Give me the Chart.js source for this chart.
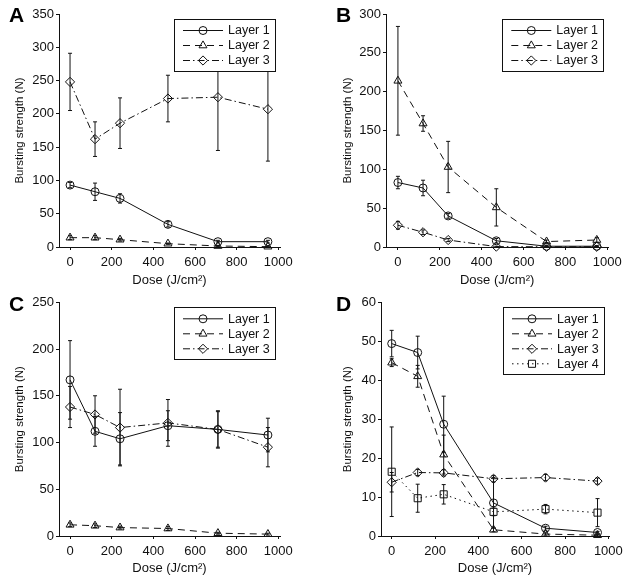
<!DOCTYPE html>
<html><head><meta charset="utf-8">
<script src="https://cdn.jsdelivr.net/npm/chart.js@4/dist/chart.umd.min.js"></script>
<style>
html,body{margin:0;padding:0;background:#fff;width:629px;height:585px;overflow:hidden}
canvas{position:absolute}
</style></head><body>
<canvas id="cA" width="315" height="290" style="left:0;top:0"></canvas>
<canvas id="cB" width="314" height="290" style="left:315px;top:0"></canvas>
<canvas id="cC" width="315" height="295" style="left:0;top:290px"></canvas>
<canvas id="cD" width="314" height="295" style="left:315px;top:290px"></canvas>
<script>
// ---- data ----
const doses = [0, 120, 240, 470, 710, 950];
const xTickValues = [0, 200, 400, 600, 800, 1000];
const layerNames = ['Layer 1', 'Layer 2', 'Layer 3', 'Layer 4'];
const xTitle = 'Dose (J/cm²)';
const yTitle = 'Bursting strength (N)';

const aYTicks = [0, 50, 100, 150, 200, 250, 300, 350];
const aLayer1 = [93, 83, 73, 34, 8, 8];
const aLayer1Err = [4, 13, 7, 4, 2, 2];
const aLayer2 = [14, 14, 11, 5, 1.5, 0.5];
const aLayer2Err = [3, 3, 2, 1, 1, 0.5];
const aLayer3 = [248, 162, 186, 223, 225, 207];
const aLayer3Err = [43, 26, 38, 35, 80, 78];

const bYTicks = [0, 50, 100, 150, 200, 250, 300];
const bLayer1 = [83, 76, 40, 8, 1, 1];
const bLayer1Err = [8, 10, 3, 3, 1, 1];
const bLayer2 = [214, 159, 103, 51, 7, 9];
const bLayer2Err = [70, 10, 33, 24, 2, 3];
const bLayer3 = [28, 19, 9, 0.5, 0.3, 0.3];
const bLayer3Err = [5, 3, 2, 0.5, 0.3, 0.3];

const cYTicks = [0, 50, 100, 150, 200, 250];
const cLayer1 = [167, 112, 104, 118, 114, 108];
const cLayer1Err = [42, 16, 28, 16, 19, 18];
const cLayer2 = [12, 11, 9, 8, 3, 2];
const cLayer2Err = [2, 2, 1.5, 2, 1, 1];
const cLayer3 = [138, 130, 116, 121, 114, 95];
const cLayer3Err = [22, 20, 41, 25, 20, 21];

const dYTicks = [0, 10, 20, 30, 40, 50, 60];
const dLayer1 = [49.4, 47.1, 28.7, 8.5, 2.0, 0.9];
const dLayer1Err = [3.4, 4.2, 7.2, 6.5, 0.5, 0.3];
const dLayer2 = [44.5, 41.0, 20.9, 1.6, 0.5, 0.2];
const dLayer2Err = [1.0, 2.8, 5.0, 0.5, 0.3, 0.2];
const dLayer3 = [13.8, 16.3, 16.2, 14.7, 15.0, 14.1];
const dLayer3Err = [2.5, 0.8, 0.8, 0.8, 0.8, 0.8];
const dLayer4 = [16.5, 9.7, 10.7, 6.2, 6.9, 6.0];
const dLayer4Err = [11.5, 3.6, 2.5, 1.0, 1.2, 3.6];

// ---- styles ----
const FONT = "'Liberation Sans', Arial, Helvetica, sans-serif";
const INK = '#111';
const layerStyles = [
  {dash: [], point: 'circle', r: 4},
  {dash: [7, 5], point: 'triangle', r: 4.6},
  {dash: [7, 3, 1.5, 3], point: 'rectRot', r: 4.6},
  {dash: [1.5, 3.5], point: 'rect', r: 5}
];

function drawMarker(ctx, style, x, y, r) {
  ctx.beginPath();
  if (style === 'circle') {
    ctx.arc(x, y, r, 0, Math.PI * 2);
  } else if (style === 'triangle') {
    let a = 0;
    ctx.moveTo(x + Math.sin(a) * r, y - Math.cos(a) * r);
    a += 2 * Math.PI / 3; ctx.lineTo(x + Math.sin(a) * r, y - Math.cos(a) * r);
    a += 2 * Math.PI / 3; ctx.lineTo(x + Math.sin(a) * r, y - Math.cos(a) * r);
    ctx.closePath();
  } else if (style === 'rectRot') {
    ctx.moveTo(x, y - r); ctx.lineTo(x + r, y); ctx.lineTo(x, y + r); ctx.lineTo(x - r, y); ctx.closePath();
  } else {
    const s = Math.SQRT1_2 * r;
    ctx.rect(x - s, y - s, 2 * s, 2 * s);
  }
  ctx.stroke();
}

const errorBarPlugin = {
  id: 'errbars',
  afterDatasetsDraw(chart) {
    const ctx = chart.ctx, xs = chart.scales.x, ys = chart.scales.y;
    ctx.save();
    ctx.strokeStyle = INK; ctx.lineWidth = 1; ctx.setLineDash([]);
    chart.data.datasets.forEach(ds => {
      ds.data.forEach((p, i) => {
        const e = ds.errors[i];
        if (!e) return;
        const x = xs.getPixelForValue(p.x);
        const y1 = ys.getPixelForValue(p.y + e);
        const y0 = ys.getPixelForValue(Math.max(0, p.y - e));
        ctx.beginPath();
        ctx.moveTo(x, y1); ctx.lineTo(x, y0);
        ctx.moveTo(x - 2, y1); ctx.lineTo(x + 2, y1);
        ctx.moveTo(x - 2, y0); ctx.lineTo(x + 2, y0);
        ctx.stroke();
      });
    });
    ctx.restore();
  }
};

const panelPlugin = {
  id: 'panel',
  afterDraw(chart, args, opts) {
    const ctx = chart.ctx, a = chart.chartArea;
    ctx.save();
    // legend box
    const n = chart.data.datasets.length;
    const w = 101, right = a.right - 5, left = right - w, top = a.top + 5;
    const h = 11.5 + (n - 1) * 15 + 10.5;
    ctx.fillStyle = '#fff';
    ctx.fillRect(left, top, w, h);
    ctx.strokeStyle = INK; ctx.lineWidth = 1;
    ctx.strokeRect(Math.round(left) + 0.5, Math.round(top) + 0.5, w, Math.round(h));
    ctx.font = '12.5px ' + FONT;
    ctx.textBaseline = 'middle'; ctx.textAlign = 'left';
    chart.data.datasets.forEach((ds, i) => {
      const y = top + 11.5 + i * 15;
      const st = layerStyles[i];
      ctx.setLineDash(st.dash);
      ctx.beginPath(); ctx.moveTo(left + 9, y); ctx.lineTo(left + 49, y); ctx.stroke();
      ctx.setLineDash([]);
      drawMarker(ctx, st.point, left + 29, y, st.r);
      ctx.fillStyle = INK;
      ctx.fillText(ds.label, left + 54, y + 0.5);
    });
    // panel letter
    ctx.font = 'bold 21px ' + FONT;
    ctx.textBaseline = 'alphabetic';
    ctx.fillStyle = '#000';
    ctx.fillText(opts.letter, opts.lx, opts.ly);
    ctx.restore();
  }
};

function makePanel(id, cfg) {
  const datasets = cfg.series.map((s, i) => ({
    label: layerNames[i],
    data: doses.map((d, j) => ({x: d, y: s[0][j]})),
    errors: s[1],
    borderColor: INK,
    borderWidth: 1,
    borderDash: layerStyles[i].dash,
    pointStyle: layerStyles[i].point,
    pointRadius: layerStyles[i].r,
    pointBorderColor: INK,
    pointBorderWidth: 1,
    pointBackgroundColor: 'rgba(0,0,0,0)',
    tension: 0,
    clip: false,
    fill: false
  }));
  const tickFont = {family: FONT, size: 13};
  new Chart(document.getElementById(id), {
    type: 'line',
    data: {datasets},
    plugins: [errorBarPlugin, panelPlugin],
    options: {
      responsive: false, animation: false, devicePixelRatio: 1,
      layout: {padding: cfg.pad},
      plugins: {
        legend: {display: false}, tooltip: {enabled: false},
        panel: {letter: cfg.letter, lx: cfg.lx, ly: cfg.ly}
      },
      scales: {
        x: {
          type: 'linear', min: cfg.xMin, max: cfg.xMax,
          afterBuildTicks: s => { s.ticks = xTickValues.map(v => ({value: v})); },
          afterFit: s => { s.height = cfg.hx; },
          grid: {display: true, drawOnChartArea: false, drawTicks: true, tickLength: 3, color: INK, lineWidth: 1},
          border: {display: true, color: INK, width: 1},
          ticks: {color: INK, font: tickFont, padding: 5, maxRotation: 0, autoSkip: false, callback: v => String(v)},
          title: {display: true, text: xTitle, color: INK, font: {family: FONT, size: 13}, padding: 0}
        },
        y: {
          type: 'linear', min: 0, max: cfg.yTicks[cfg.yTicks.length - 1],
          afterBuildTicks: s => { s.ticks = cfg.yTicks.map(v => ({value: v})); },
          afterFit: s => { s.width = cfg.wy; },
          grid: {display: true, drawOnChartArea: false, drawTicks: true, tickLength: 3, color: INK, lineWidth: 1},
          border: {display: true, color: INK, width: 1},
          ticks: {color: INK, font: tickFont, padding: 2, autoSkip: false, callback: v => String(v)},
          title: {display: true, text: yTitle, color: INK, font: {family: FONT, size: 11.5}, padding: 0}
        }
      }
    }
  });
}

makePanel('cA', {
  series: [[aLayer1, aLayer1Err], [aLayer2, aLayer2Err], [aLayer3, aLayer3Err]],
  yTicks: aYTicks, xMin: -53, xMax: 1008,
  pad: {left: 13, top: 14, right: 35, bottom: 2.2}, wy: 46, hx: 40.8,
  letter: 'A', lx: 9, ly: 22
});
makePanel('cB', {
  series: [[bLayer1, bLayer1Err], [bLayer2, bLayer2Err], [bLayer3, bLayer3Err]],
  yTicks: bYTicks, xMin: -57, xMax: 1005,
  pad: {left: 26, top: 14, right: 20.7, bottom: 2.2}, wy: 45, hx: 40.8,
  letter: 'B', lx: 21, ly: 22
});
makePanel('cC', {
  series: [[cLayer1, cLayer1Err], [cLayer2, cLayer2Err], [cLayer3, cLayer3Err]],
  yTicks: cYTicks, xMin: -53, xMax: 1008,
  pad: {left: 13, top: 12.3, right: 35, bottom: 8.9}, wy: 46, hx: 40.1,
  letter: 'C', lx: 9, ly: 21
});
makePanel('cD', {
  series: [[dLayer1, dLayer1Err], [dLayer2, dLayer2Err], [dLayer3, dLayer3Err], [dLayer4, dLayer4Err]],
  yTicks: dYTicks, xMin: -49.4, xMax: 1003,
  pad: {left: 26, top: 12.3, right: 20, bottom: 8.9}, wy: 40, hx: 40.1,
  letter: 'D', lx: 21, ly: 21
});
</script>
</body></html>
